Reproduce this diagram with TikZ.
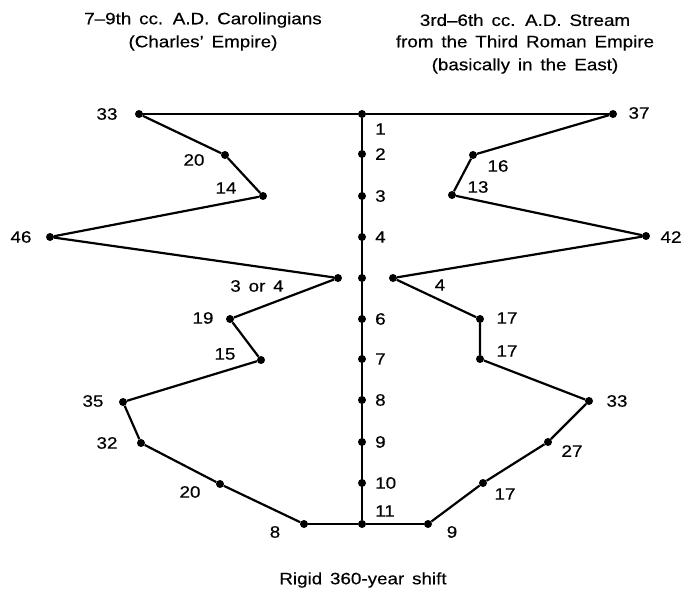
\documentclass[tikz,border=0pt]{standalone}
\usepackage{fontspec}
\setmainfont{Liberation Sans}[FakeStretch=1.14,WordSpace=1.5,FakeBold=0.4]
\begin{document}
\begin{tikzpicture}[x=1pt,y=-1pt,
  dot/.style={circle,fill=black,inner sep=0pt,minimum size=8pt},
  lbl/.style={inner sep=0pt,font=\fontsize{16.5}{20}\selectfont},
  zig/.style={line width=2.2pt,line join=round},
  thin/.style={line width=1.2pt},
  axis/.style={line width=1.8pt}]
\useasboundingbox (0,0) rectangle (686,592);
% headers
\node[lbl] (hl1) at (203,20) {7--9th cc. A.D. Carolingians};
\node[lbl] (hl2) at (203,43) {(Charles' Empire)};
\node[lbl] (hr1) at (525,20) {3rd--6th cc. A.D. Stream};
\node[lbl] (hr2) at (525,43) {from the Third Roman Empire};
\node[lbl] (hr3) at (525,66) {(basically in the East)};
\node[lbl] (foot) at (363,580) {Rigid 360-year shift};
% axis dots
\foreach \i/\y in {1/114,2/154,3/196,4/237,5/278,6/319,7/359,8/400,9/442,10/483,11/524}
  \node[dot] (a\i) at (362,\y) {};
\draw[axis] (a1) -- (a11);
\foreach \i/\y in {2/154,3/196,4/237,6/319,7/359,8/400,9/442}
  \node[lbl,anchor=west] (n\i) at (375,\y) {\i};
\node[lbl,anchor=west] (n1) at (375,129) {1};
\node[lbl,anchor=west] (n10) at (375,483) {10};
\node[lbl,anchor=west] (n11) at (375,511) {11};
% left chain
\node[dot] (l1) at (139,114) {};
\node[dot] (l2) at (225,155) {};
\node[dot] (l3) at (263,196) {};
\node[dot] (l4) at (50,237) {};
\node[dot] (l5) at (338,278) {};
\node[dot] (l6) at (230,319) {};
\node[dot] (l7) at (261,360) {};
\node[dot] (l8) at (123,402) {};
\node[dot] (l9) at (141,443) {};
\node[dot] (l10) at (220,484) {};
\node[dot] (l11) at (304,524) {};
\draw[zig] (l1) -- (l2) -- (l3) -- (l4) -- (l5) -- (l6) -- (l7) -- (l8) -- (l9) -- (l10) -- (l11);
\node[lbl] (t1) at (107,114) {33};
\node[lbl] (t2) at (194,160) {20};
\node[lbl] (t3) at (226,188) {14};
\node[lbl] (t4) at (21,237) {46};
\node[lbl] (t5) at (257,286) {3 or 4};
\node[lbl] (t6) at (203,318) {19};
\node[lbl] (t7) at (225,354) {15};
\node[lbl] (t8) at (93,401) {35};
\node[lbl] (t9) at (107,443) {32};
\node[lbl] (t10) at (190,492) {20};
\node[lbl] (t11) at (275,532) {8};
% right chain
\node[dot] (r1) at (613,114) {};
\node[dot] (r2) at (473,155) {};
\node[dot] (r3) at (452,195) {};
\node[dot] (r4) at (646,236) {};
\node[dot] (r5) at (393,278) {};
\node[dot] (r6) at (480,319) {};
\node[dot] (r7) at (480,359) {};
\node[dot] (r8) at (589,401) {};
\node[dot] (r9) at (548,442) {};
\node[dot] (r10) at (483,483) {};
\node[dot] (r11) at (428,524) {};
\draw[zig] (r1) -- (r2) -- (r3) -- (r4) -- (r5) -- (r6) -- (r7) -- (r8) -- (r9) -- (r10) -- (r11);
\node[lbl] (s1) at (639,113) {37};
\node[lbl] (s2) at (498,166) {16};
\node[lbl] (s3) at (478,187) {13};
\node[lbl] (s4) at (671,237) {42};
\node[lbl] (s5) at (440,285) {4};
\node[lbl] (s6) at (507,318) {17};
\node[lbl] (s7) at (507,351) {17};
\node[lbl] (s8) at (617,401) {33};
\node[lbl] (s9) at (572,451) {27};
\node[lbl] (s10) at (505,494) {17};
\node[lbl] (s11) at (452,532) {9};
% horizontal lines
\draw[thin] (l1) -- (a1) -- (r1);
\draw[thin] (l11) -- (a11) -- (r11);
\end{tikzpicture}
\end{document}
